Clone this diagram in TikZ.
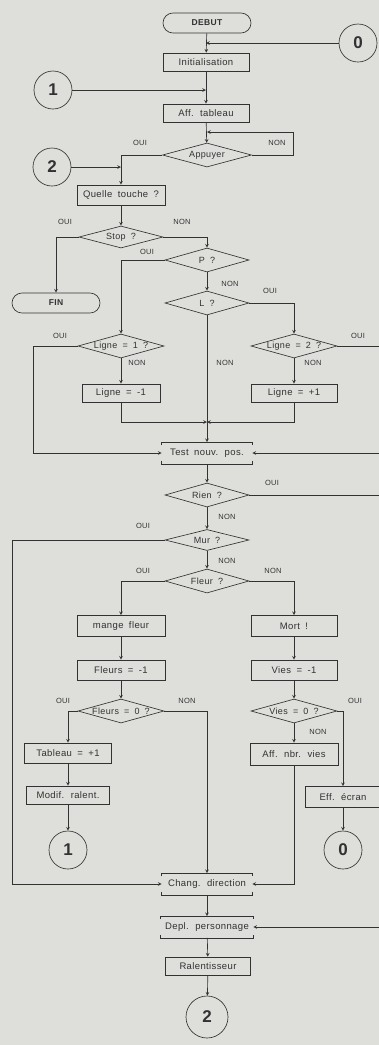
\documentclass[tikz,border=0pt]{standalone}
\usepackage{fontspec}
\setmainfont{Liberation Sans}[LetterSpace=4, WordSpace=1.8]
\usetikzlibrary{shapes.geometric}
\definecolor{papier}{RGB}{222,222,219}
\definecolor{encre}{RGB}{50,50,50}
\begin{document}
\begin{tikzpicture}[x=1pt, y=-1pt, >=stealth, line width=0.65pt, color=encre,
        boite/.style={draw, rectangle, minimum width=86, minimum height=18, inner sep=1pt, font=\fontsize{9.5}{10}\selectfont},
        test/.style={draw, diamond, aspect=3.5, minimum width=84, minimum height=24, inner sep=0pt, font=\fontsize{9}{10}\selectfont},
        term/.style={draw, rounded corners=10, minimum width=88, minimum height=20, inner sep=1pt, font=\fontsize{8.5}{9}\selectfont\bfseries},
        renvoi/.style={draw, circle, minimum size=38, inner sep=0pt, font=\fontsize{17}{18}\selectfont\bfseries},
        barre/.style={rectangle, minimum width=90, minimum height=21, inner sep=1pt, font=\fontsize{9.5}{10}\selectfont},
        rep/.style={font=\fontsize{7.5}{8}\selectfont}]
        \useasboundingbox (0,0) rectangle (379,1045);
        \fill[papier] (0,0) rectangle (379,1045);

        % debut et initialisation
        \node[term] (deb) at (207,23) {DEBUT};
        \node[renvoi] (c0_a) at (358,43) {0};
        \node[boite] (init) at (206,62) {Initialisation};
        \node[renvoi] (c1_a) at (53,90) {1};
        \node[boite] (aff) at (206,113) {Aff. tableau};
        \node[test, minimum width=89] (app) at (207,155) {Appuyer};
        \node[renvoi] (c2_a) at (52,167) {2};

        % lecture des touches
        \node[boite, minimum width=88, minimum height=20] (quel) at (121,195) {Quelle touche ?};
        \node[test, minimum height=22] (stop) at (121,237) {Stop ?};
        \node[term] (fin) at (56,303) {FIN};
        \node[test] (p) at (207,260) {P ?};
        \node[test] (l) at (207,303) {L ?};
        \node[test, minimum width=86] (l1) at (121,346) {Ligne = 1 ?};
        \node[test, minimum width=86] (l2) at (294,346) {Ligne = 2 ?};
        \node[boite, minimum width=78] (lm) at (121,393) {Ligne = -1};
        \node[boite] (lp) at (294,393) {Ligne = +1};
        \node[barre] (tnp) at (207,453) {Test nouv. pos.};

        % tests de la nouvelle position
        \node[test] (rien) at (207,495) {Rien ?};
        \node[test, minimum height=21] (mur) at (207,540) {Mur ?};
        \node[test] (fl) at (207,581) {Fleur ?};
        \node[boite, minimum width=88, minimum height=21] (mf) at (121,626) {mange fleur};
        \node[boite, minimum height=21] (mort) at (294,626) {Mort !};
        \node[boite, minimum width=88, minimum height=20] (f1) at (121,670) {Fleurs = -1};
        \node[boite, minimum height=20] (v1) at (294,670) {Vies = -1};
        \node[test, minimum width=86] (f0) at (121,711) {Fleurs = 0 ?};
        \node[test, minimum width=86] (v0) at (294,711) {Vies = 0 ?};
        \node[boite, minimum width=87, minimum height=20] (tab) at (68,753) {Tableau = +1};
        \node[boite, minimum width=83] (mod) at (68,795) {Modif. ralent.};
        \node[renvoi] (c1_b) at (68,850) {1};
        \node[boite, minimum width=88, minimum height=22] (aff2) at (294,754) {Aff. nbr. vies};
        \node[boite, minimum width=76, minimum height=21] (eff) at (343,797) {Eff. écran};
        \node[renvoi] (c0_b) at (343,850) {0};

        % fin de boucle
        \node[barre] (chg) at (207,884) {Chang. direction};
        \node[barre, minimum width=92] (dep) at (207,927) {Depl. personnage};
        \node[boite, minimum width=85] (ral) at (208,966) {Ralentisseur};
        \node[renvoi, minimum size=42] (c2_b) at (207,1017) {2};

        \foreach \n in {tnp,chg,dep} {
            \draw ([yshift=-3pt]\n.north west) -- (\n.north west) -- (\n.north east) -- ([yshift=-3pt]\n.north east);
            \draw ([yshift=3pt]\n.south west) -- (\n.south west) -- (\n.south east) -- ([yshift=3pt]\n.south east);
        }

        % OUI / NON
        \foreach \nom/\x/\y/\t in {r_app_o/140/143/OUI, r_app_n/277/143/NON,
                r_stop_o/65/222/OUI, r_stop_n/182/222/NON, r_p_o/147/252/OUI, r_p_n/230/284/NON,
                r_l_o/270/291/OUI, r_l_n/225/363/NON, r_l1_o/60/336/OUI, r_l1_n/137/363/NON,
                r_l2_o/358/336/OUI, r_l2_n/313/363/NON, r_rien_o/272/483/OUI, r_rien_n/227/517/NON,
                r_mur_o/143/526/OUI, r_mur_n/227/561/NON, r_fl_o/143/571/OUI, r_fl_n/273/571/NON,
                r_f0_o/63/701/OUI, r_f0_n/187/701/NON, r_v0_o/355/701/OUI, r_v0_n/318/732/NON}
            \node[rep] (\nom) at (\x,\y) {\t};

        \coordinate (boucle) at (293,132);
        \coordinate (jn) at (207,422);
        \coordinate (g_1) at (33,346);
        \coordinate (g_2) at (12,540);
        \coordinate (e_1) at (379,346);
        \coordinate (e_2) at (379,453);
        \coordinate (e_3) at (379,495);
        \coordinate (e_4) at (379,927);

        \draw[->] (deb) -- (init);
        \draw[->] (c0_a) -- (c0_a -| init);
        \draw[->] (init) -- (aff);
        \draw[->] (c1_a) -- (c1_a -| aff);
        \draw[->] (aff) -- (app);
        \draw[->] (app.east) -| (boucle) -- (boucle -| app);
        \draw[->] (app.west) -| (quel);
        \draw[->] (c2_a) -- (c2_a -| quel);
        \draw[->] (quel) -- (stop);
        \draw[->] (stop.west) -| (fin);
        \draw[->] (stop.east) -| (p);
        \draw[->] (p.west) -| (l1);
        \draw[->] (p) -- (l);
        \draw[->] (l.east) -| (l2);
        \draw[->] (l) -- (tnp);
        \draw[->] (l1) -- (lm);
        \draw[->] (l2) -- (lp);
        \draw[->] (lm) |- (jn);
        \draw[->] (lp) |- (jn);
        \draw[->] (l1.west) -- (g_1) |- (tnp);
        \draw (l2.east) -- (e_1);
        \draw[->] (e_2) -- (tnp);
        \draw[->] (tnp) -- (rien);
        \draw (rien.east) -- (e_3);
        \draw[->] (rien) -- (mur);
        \draw[->] (mur.west) -- (g_2) |- (chg);
        \draw[->] (mur) -- (fl);
        \draw[->] (fl.west) -| (mf);
        \draw[->] (fl.east) -| (mort);
        \draw[->] (mf) -- (f1);
        \draw[->] (mort) -- (v1);
        \draw[->] (f1) -- (f0);
        \draw[->] (v1) -- (v0);
        \draw[->] (f0.west) -| (tab);
        \draw[->] (tab) -- (mod);
        \draw[->] (mod) -- (c1_b);
        \draw[->] (f0.east) -| (chg);
        \draw[->] (v0) -- (aff2);
        \draw[->] (v0.east) -| (eff);
        \draw[->] (eff) -- (c0_b);
        \draw[->] (aff2) |- (chg);
        \draw[->] (chg) -- (dep);
        \draw[->] (e_4) -- (dep);
        \draw[->] (dep) -- (ral);
        \draw[->] (ral) -- (c2_b);
    \end{tikzpicture}
\end{document}
